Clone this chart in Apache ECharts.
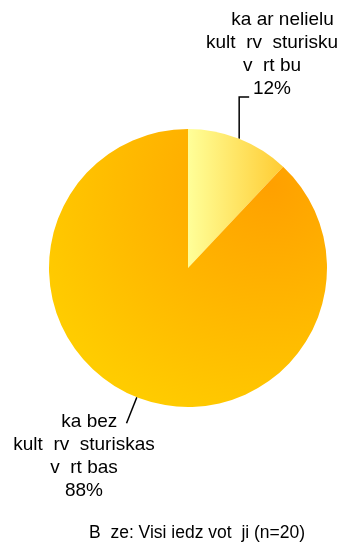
<!DOCTYPE html>
<html>
<head>
<meta charset="utf-8">
<script src="https://cdn.jsdelivr.net/npm/echarts@6/dist/echarts.min.js"></script>
<style>
  html, body { margin: 0; padding: 0; background: #fff; }
  #pieChart { width: 343px; height: 544px; }
</style>
</head>
<body>
<div id="pieChart"></div>
<script>
const categories = [
  '    ka ar nelielu\nkult  rv  sturisku\nv  rt bu',
  '  ka bez\nkult  rv  sturiskas\nv  rt bas'
];
const values = [12, 88];
const footnote = 'B  ze: Visi iedz vot  ji (n=20)';

const sliceColors = [
  {
    type: 'linear', x: 0, y: 0, x2: 1, y2: 0,
    colorStops: [{ offset: 0, color: '#FFFF99' }, { offset: 1, color: '#FFCC33' }]
  },
  {
    type: 'radial', x: 0.8, y: 0.2, r: 0.9,
    colorStops: [{ offset: 0, color: '#FFA000' }, { offset: 1, color: '#FFCC00' }]
  }
];

// where each label block sits (centre x, top y) and how the leader bends
const labelPlaces = [
  { x: 272, y: 8, bend: 'up' },
  { x: 84, y: 410, bend: 'none' }
];

const PieChart = echarts.init(document.getElementById('pieChart'), null, { renderer: 'canvas' });

const option = {
  animation: false,
  textStyle: { fontFamily: 'Liberation Sans, Arial, sans-serif' },
  title: {
    text: footnote,
    left: 84,
    top: 519,
    textStyle: { fontSize: 17.5, fontWeight: 'normal', color: '#000' }
  },
  series: [
    {
      type: 'pie',
      center: [188, 268],
      radius: 139,
      startAngle: 90,
      clockwise: true,
      silent: true,
      itemStyle: { borderWidth: 0 },
      label: {
        show: true,
        position: 'outside',
        alignTo: 'none',
        overflow: 'none',
        formatter: '{b}\n{d}%',
        color: '#000',
        fontSize: 19,
        lineHeight: 23,
        align: 'center'
      },
      labelLine: {
        show: true,
        length: 28,
        length2: 0,
        lineStyle: { color: '#000', width: 1.5 }
      },
      labelLayout: function (params) {
        const place = labelPlaces[params.dataIndex];
        const pts = params.labelLinePoints;
        let linePts = pts;
        if (pts && place.bend === 'up') {
          const topY = place.y + 23 * 3 + 20;
          linePts = [pts[0], [pts[0][0], topY], [pts[0][0] + 10, topY]];
        }
        return {
          x: place.x,
          y: place.y,
          align: 'center',
          verticalAlign: 'top',
          labelLinePoints: linePts
        };
      },
      data: categories.map((name, i) => ({
        name: name,
        value: values[i],
        itemStyle: { color: sliceColors[i] }
      }))
    }
  ]
};

PieChart.setOption(option);
</script>
</body>
</html>
